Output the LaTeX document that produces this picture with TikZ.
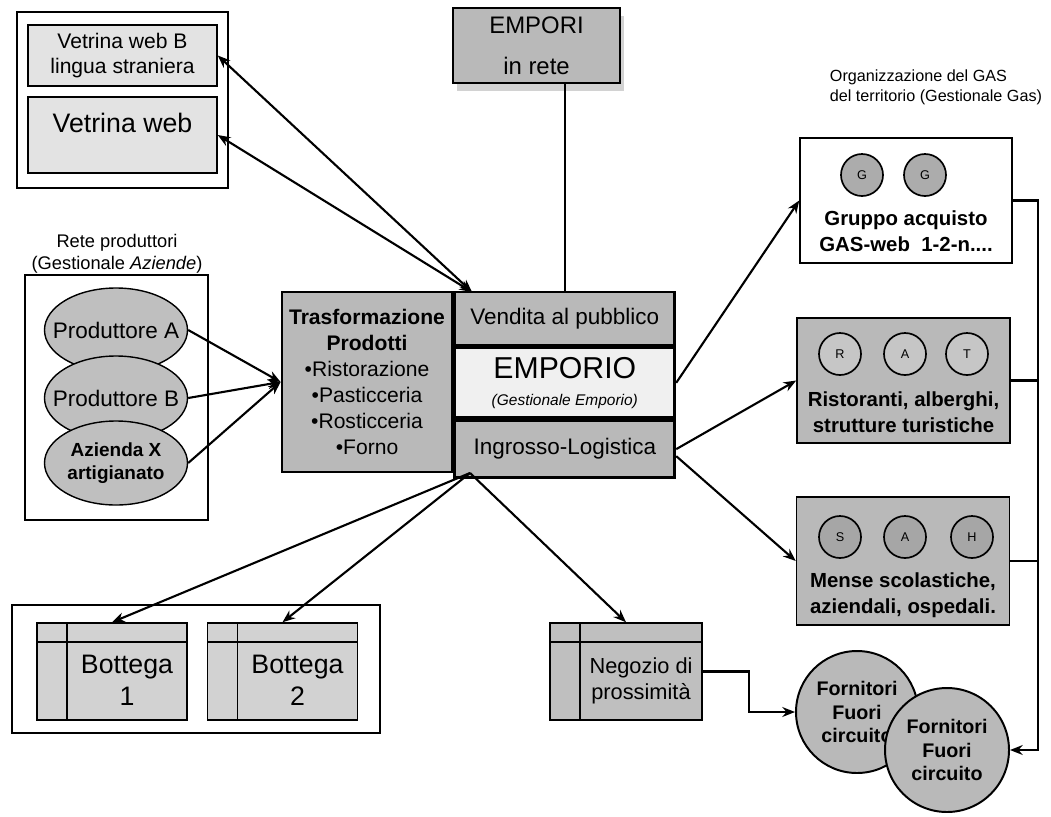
\documentclass[tikz,border=0pt]{standalone}
\usepackage{fontspec}
\setmainfont{Liberation Sans}
\usetikzlibrary{
  arrows.meta,
  positioning,      % below=0pt of ...
  shapes.geometric, % ellipse
  shadows,          % drop shadow
}
\def\mypx{0.025cm}
\newcommand{\fsz}[2]{\fontsize{#1}{#2}\selectfont}
\tikzset{
  x=\mypx, y=-\mypx,
  >={Stealth[length=9pt,width=7pt]},
  conn/.style={line width=1.5pt},
  my frame/.style={draw, line width=1.1pt},
  my box/.style={
    draw,
    line width=1.1pt,
    rectangle,
    align=center,
    inner sep=1pt
  },
  light box/.style={my box, fill=gray!22},
  dark box/.style={my box, fill=gray!55},
  core part/.style={
    my box,
    line width=2pt,
    fill=gray!55,
    minimum width=220*\mypx,
    font=\fsz{16}{19}
  },
  my ellipse/.style={
    ellipse,
    draw,
    line width=1pt,
    fill=gray!50,
    minimum width=143*\mypx,
    minimum height=84*\mypx,
    inner xsep=-22pt,
    inner ysep=0pt,
    align=center,
    font=\fsz{16}{19}
  },
  letter/.style={
    circle,
    draw,
    line width=1.2pt,
    minimum size=42*\mypx,
    inner sep=0pt,
    font=\fsz{9}{10}
  },
  user box/.style={my box, minimum width=213*\mypx, minimum height=125*\mypx},
  user text/.style={align=center, font=\bfseries\fsz{14.5}{18.5}},
  shop/.style={
    my box,
    fill=gray!35,
    minimum width=150*\mypx,
    minimum height=97*\mypx,
    path picture={
      \draw[line width=1.1pt]
        ([yshift=-19*\mypx]path picture bounding box.north west) --
        ([yshift=-19*\mypx]path picture bounding box.north east);
      \draw[line width=1.1pt]
        ([xshift=30*\mypx]path picture bounding box.north west) --
        ([xshift=30*\mypx]path picture bounding box.south west);
    }
  },
  shop text/.style={align=center, xshift=15*\mypx, yshift=-9*\mypx},
  supplier/.style={
    circle,
    draw,
    line width=1.4pt,
    fill=gray!55,
    minimum size=122*\mypx,
    inner sep=0pt,
    align=center,
    font=\bfseries\fsz{14}{17}
  }
}

\begin{document}
\begin{tikzpicture}
\useasboundingbox (0,0) rectangle (1051,816);

% vetrine web
\draw[my frame] (17,12) rectangle (228,188);
\node[light box, minimum width=189*\mypx, minimum height=61*\mypx, font=\fsz{15}{18}]
  (webB) at (122.5,55.5) {Vetrina web B\\lingua straniera};
\node[light box, minimum width=189*\mypx, minimum height=76*\mypx, font=\fsz{19}{22}, text depth=17pt]
  (web) at (122.5,135) {Vetrina web};

% empori in rete
\node[dark box, minimum width=167*\mypx, minimum height=75*\mypx, font=\fsz{17}{21},
      drop shadow={shadow xshift=3pt, shadow yshift=-6pt, fill=gray!70}]
  (rete) at (536.5,45.5) {EMPORI\\[8pt]in rete};

% blocco centrale
\node[dark box, line width=2pt, minimum width=170*\mypx, minimum height=180*\mypx, font=\fsz{15}{18.4}]
  (trasf) at (367,382) {\textbf{Trasformazione}\\\textbf{Prodotti}\\•Ristorazione\\•Pasticceria\\•Rosticceria\\•Forno};
\node[core part, minimum height=53*\mypx, anchor=north west] (vendita) at (trasf.north east) {Vendita al pubblico};
\node[core part, fill=gray!12, minimum height=70*\mypx, below=0pt of vendita]
  (emporio) {\fsz{21.5}{24}EMPORIO\\\itshape\fsz{11}{14}(Gestionale Emporio)};
\node[core part, minimum height=57*\mypx, below=0pt of emporio] (ingrosso) {Ingrosso-Logistica};

% rete produttori
\node[align=center, font=\fsz{13}{15.5}] (retetitle) at (117,254) {Rete produttori\\(Gestionale \textit{Aziende})};
\draw[my frame] (25,275) rectangle (208,520);
\node[my ellipse] (prodA) at (116,330) {Produttore A};
\node[my ellipse] (prodB) at (116,398) {Produttore B};
\node[my ellipse, font=\bfseries\fsz{13.5}{16}] (prodX) at (116,463) {Azienda X\\artigianato};

% gas
\node[anchor=east, align=left, font=\fsz{11.5}{14}] (gastitle) at (1047,87) {Organizzazione del GAS\\del territorio (Gestionale Gas)};
\node[user box, fill=white, minimum width=212*\mypx] (gruppo) at (906,200.5) {};
\node[letter, fill=gray!65] (g1) at (862,175) {G};
\node[letter, fill=gray!65] (g2) at (925,175) {G};
\node[user text] (gruppotext) at (906,231) {Gruppo acquisto\\GAS-web\ \ 1-2-n....};

\node[user box, fill=gray!55] (rist) at (903.5,380.5) {};
\node[letter, fill=gray!45] (r1) at (840,354) {R};
\node[letter, fill=gray!45] (r2) at (905,354) {A};
\node[letter, fill=gray!45] (r3) at (967,354) {T};
\node[user text] (risttext) at (903.5,412) {Ristoranti, alberghi,\\strutture turistiche};

\node[user box, fill=gray!55, minimum height=128*\mypx] (mense) at (903,561) {};
\node[letter, fill=gray!70] (m1) at (840,537) {S};
\node[letter, fill=gray!70] (m2) at (905,537) {A};
\node[letter, fill=gray!70] (m3) at (972,537) {H};
\node[user text] (mensetext) at (903,595) {Mense scolastiche,\\aziendali, ospedali.};

% fornitori
\node[supplier] (forn1) at (857,712) {Fornitori\\Fuori\\circuito};
\node[supplier, minimum size=124*\mypx] (forn2) at (947,750) {Fornitori\\Fuori\\circuito};

% botteghe e negozio
\draw[my frame] (12,605) rectangle (380,733);
\node[shop] (bott1) at (112,671.5) {};
\node[shop text, font=\fsz{19}{23}] (bott1text) at (bott1) {Bottega\\1};
\node[shop] (bott2) at (282.5,671.5) {};
\node[shop text, font=\fsz{19}{23}] (bott2text) at (bott2) {Bottega\\2};
\node[shop, fill=gray!50, minimum width=152*\mypx] (negozio) at (626,671.5) {};
\node[shop text, font=\fsz{15.5}{18.5}] (negoziotext) at (negozio) {Negozio di\\prossimità};

% collegamenti
\coordinate (topjoin) at (472,292);
\coordinate (botjoin) at (470,473);
\coordinate (bus) at (1038,750);
\draw[conn,<->] (webB.east) -- (topjoin);
\draw[conn,<->] (web.east) -- (topjoin);
\draw[conn] (vendita.north) -- (vendita.north |- rete.south);
\draw[conn,->] (prodA.east) -- (trasf.west);
\draw[conn,->] (prodB.east) -- (trasf.west);
\draw[conn,->] (prodX.east) -- (trasf.west);
\draw[conn,->] (emporio.east) -- (gruppo.west);
\draw[conn,->] (ingrosso.east) -- (rist.west);
\draw[conn,->] ([yshift=-7*\mypx]ingrosso.east) -- (mense.west);
\draw[conn,->] (botjoin) -- (bott1.north);
\draw[conn,->] (botjoin) -- (bott2.north);
\draw[conn,->] (botjoin) -- (negozio.north);
\draw[conn,->] (negozio.east) -- ++(46,0) |- (forn1.west);
\draw[conn,->] (gruppo.east) -| (bus) -- (forn2.east);
\draw[conn] (rist.east) -- (rist.east -| bus);
\draw[conn] (mense.east) -- (mense.east -| bus);
\end{tikzpicture}
\end{document}
